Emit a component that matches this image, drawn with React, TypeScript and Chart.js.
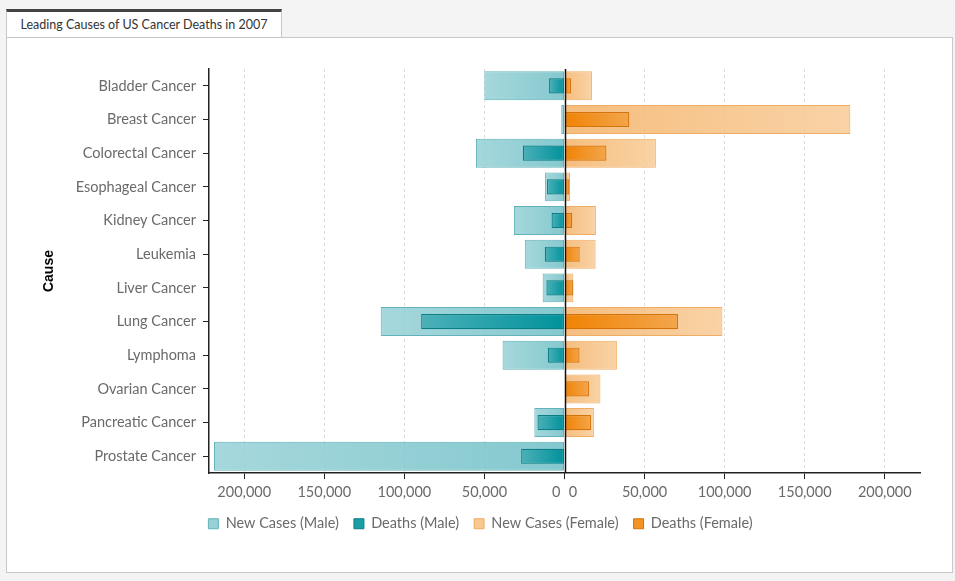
import React, { useEffect, useRef } from "react";
import { Chart, registerables } from "chart.js";

Chart.register(...registerables);

const causes = [
  "Bladder Cancer",
  "Breast Cancer",
  "Colorectal Cancer",
  "Esophageal Cancer",
  "Kidney Cancer",
  "Leukemia",
  "Liver Cancer",
  "Lung Cancer",
  "Lymphoma",
  "Ovarian Cancer",
  "Pancreatic Cancer",
  "Prostate Cancer",
];

const newCasesMale = [50040, 2030, 55290, 12130, 31590, 24800, 13650, 114760, 38670, 0, 18830, 218890];
const deathsMale = [9630, 450, 26000, 10900, 8080, 12320, 11280, 89510, 10370, 0, 16840, 27050];
const newCasesFemale = [17120, 178480, 57050, 3430, 19600, 19440, 5510, 98620, 32710, 22430, 18340, 0];
const deathsFemale = [4120, 40460, 26180, 3040, 4810, 9470, 5500, 70880, 9360, 15280, 16530, 0];

const axisMax = 222000;
const tickValues = [0, 50000, 100000, 150000, 200000];

const FONT = 'Lato, "Open Sans", sans-serif';

function gradientFill(inner: string, outer: string) {
  return (ctx: any) => {
    const chart = ctx.chart;
    if (ctx.type !== "data") return inner;
    const scale = chart.scales[ctx.dataset.xAxisID];
    const v = ctx.raw;
    if (!scale || v == null) return inner;
    const x0 = scale.getPixelForValue(0);
    const x1 = scale.getPixelForValue(v);
    if (!isFinite(x0) || !isFinite(x1) || Math.abs(x0 - x1) < 0.5) return inner;
    const g = chart.ctx.createLinearGradient(x1, 0, x0, 0);
    g.addColorStop(0, outer);
    g.addColorStop(1, inner);
    return g;
  };
}

const legendItems = [
  { text: "New Cases (Male)", fill: "#97d1d5", stroke: "#62b3b9" },
  { text: "Deaths (Male)", fill: "#1a9ea6", stroke: "#0b7d85" },
  { text: "New Cases (Female)", fill: "#f8c890", stroke: "#efac64" },
  { text: "Deaths (Female)", fill: "#f19325", stroke: "#d4730a" },
];

const centerLine = {
  id: "centerLine",
  afterDatasetsDraw(chart: any) {
    const s = chart.scales.xR;
    const { top, bottom } = chart.chartArea;
    const x = Math.round(s.getPixelForValue(0)) + 0.5;
    const c = chart.ctx;
    c.save();
    c.strokeStyle = "#111";
    c.lineWidth = 1.5;
    c.beginPath();
    c.moveTo(x, top);
    c.lineTo(x, bottom);
    c.stroke();
    c.restore();
  },
};

function xScale(reverse: boolean) {
  return {
    type: "linear" as const,
    position: "bottom" as const,
    stack: "x",
    stackWeight: 1,
    reverse,
    min: 0,
    max: axisMax,
    afterBuildTicks: (s: any) => {
      s.ticks = tickValues.map((v) => ({ value: v }));
    },
    afterFit: (s: any) => {
      s.height = s.height - 5;
    },
    ticks: {
      color: "#6a6a6a",
      font: { family: FONT, size: 14.5 },
      padding: 5,
      maxRotation: 0,
      autoSkip: false,
      callback: (v: any) => {
        if (v === 0) return reverse ? "0\u2007\u2007" : "\u2007\u20070";
        return Number(v).toLocaleString("en-US");
      },
    },
    grid: {
      color: (c: any) => (c.tick && c.tick.value === 0 ? "rgba(0,0,0,0)" : "#dcdcdc"),
      lineWidth: 1,
      drawTicks: true,
      tickLength: 6,
      tickColor: "#222",
      tickBorderDash: [],
    },
    border: { display: true, color: "#222", width: 1.5, dash: [3, 3] },
  };
}

export default function App() {
  const ref = useRef<HTMLCanvasElement | null>(null);

  useEffect(() => {
    if (!ref.current) return;
    const chart = new Chart(ref.current, {
      type: "bar",
      data: {
        labels: causes,
        datasets: [
          {
            label: "New Cases (Male)",
            data: newCasesMale,
            xAxisID: "xL",
            grouped: false,
            categoryPercentage: 1,
            barPercentage: 0.86,
            backgroundColor: gradientFill("rgba(110,191,198,0.85)", "rgba(150,209,214,0.85)"),
            borderColor: "#62b3b9",
            borderWidth: 1,
            borderSkipped: false,
            order: 2,
          },
          {
            label: "Deaths (Male)",
            data: deathsMale,
            xAxisID: "xL",
            grouped: false,
            categoryPercentage: 1,
            barPercentage: 0.45,
            backgroundColor: gradientFill("#00929b", "#4bb0b8"),
            borderColor: "#0b7d85",
            borderWidth: 1.2,
            borderSkipped: false,
            order: 1,
          },
          {
            label: "New Cases (Female)",
            data: newCasesFemale,
            xAxisID: "xR",
            grouped: false,
            categoryPercentage: 1,
            barPercentage: 0.86,
            backgroundColor: gradientFill("rgba(244,178,104,0.85)", "rgba(248,203,150,0.85)"),
            borderColor: "#efac64",
            borderWidth: 1,
            borderSkipped: false,
            order: 2,
          },
          {
            label: "Deaths (Female)",
            data: deathsFemale,
            xAxisID: "xR",
            grouped: false,
            categoryPercentage: 1,
            barPercentage: 0.45,
            backgroundColor: gradientFill("#f08305", "#f3a54c"),
            borderColor: "#d4730a",
            borderWidth: 1.2,
            borderSkipped: false,
            order: 1,
          },
        ],
      },
      options: {
        indexAxis: "y",
        animation: false,
        responsive: true,
        maintainAspectRatio: false,
        layout: { padding: { left: 34, right: 32, top: 31, bottom: 31 } },
        scales: {
          xL: xScale(true) as any,
          xR: xScale(false) as any,
          y: {
            type: "category",
            position: "left",
            offset: true,
            afterFit: (s: any) => {
              s.width = 168;
            },
            ticks: {
              color: "#6a6a6a",
              font: { family: FONT, size: 14.5 },
              padding: 7,
              autoSkip: false,
            },
            grid: {
              drawOnChartArea: false,
              offset: false,
              drawTicks: true,
              tickLength: 6,
              tickColor: "#222",
            },
            border: { display: true, color: "#222", width: 1.5 },
            title: {
              display: true,
              text: "Cause",
              color: "#000",
              font: { family: '"Liberation Sans", Arial, sans-serif', size: 14, weight: "bold" },
              padding: { top: 0, bottom: 0 },
            },
          },
        },
        plugins: {
          legend: {
            display: true,
            position: "bottom",
            labels: {
              boxWidth: 10,
              boxHeight: 10,
              padding: 15,
              color: "#6a6a6a",
              font: { family: FONT, size: 14.5 },
              generateLabels: () =>
                legendItems.map((it, i) => ({
                  text: it.text,
                  fillStyle: it.fill,
                  strokeStyle: it.stroke,
                  lineWidth: 1,
                  hidden: false,
                  datasetIndex: i,
                  fontColor: "#6a6a6a",
                })),
            },
          },
          tooltip: { enabled: false },
        },
      },
      plugins: [centerLine],
    });
    return () => chart.destroy();
  }, []);

  return (
    <div
      style={{
        position: "absolute",
        left: 0,
        top: 0,
        width: 955,
        height: 581,
        background: "#f4f4f4",
        fontFamily: FONT,
      }}
    >
      <div
        style={{
          position: "absolute",
          left: 6,
          top: 37,
          width: 947,
          height: 536,
          boxSizing: "border-box",
          border: "1px solid #c8c8c8",
          background: "#fff",
        }}
      >
        <div style={{ position: "absolute", left: 0, top: 0, width: 945, height: 534 }}>
          <canvas ref={ref} />
        </div>
      </div>
      <div
        style={{
          position: "absolute",
          left: 6,
          top: 9,
          width: 276,
          height: 28,
          boxSizing: "border-box",
          borderTop: "3px solid #444",
          borderLeft: "1px solid #c8c8c8",
          borderRight: "1px solid #c8c8c8",
          background: "#fff",
          color: "#333",
          fontSize: 12.5,
          lineHeight: "25px",
          textAlign: "center",
          whiteSpace: "nowrap",
        }}
      >
        Leading Causes of US Cancer Deaths in 2007
      </div>
    </div>
  );
}
